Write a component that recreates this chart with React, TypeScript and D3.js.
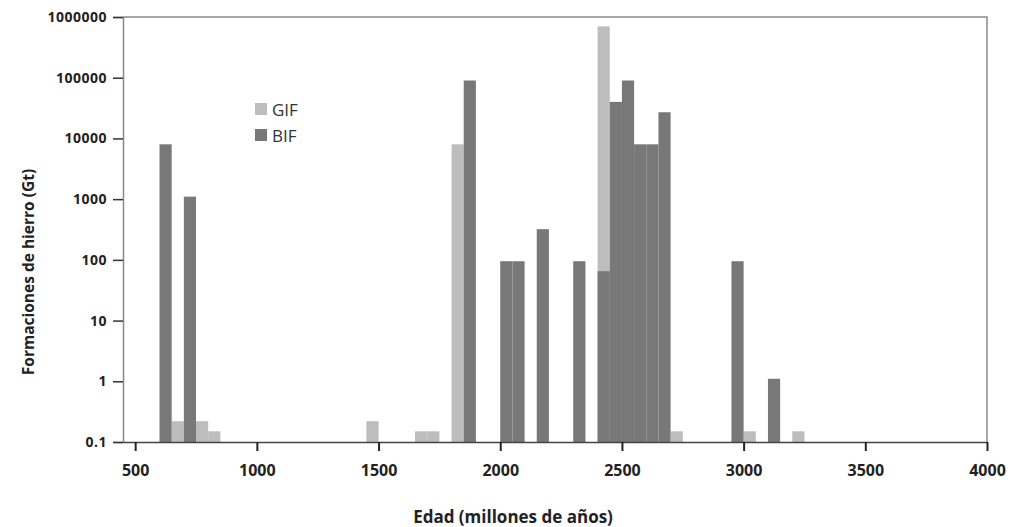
import React from "react";
import * as d3 from "d3";

// bin start (millones de años), each bin is 50 My wide
const binWidth = 50;
const gifBins = [650, 750, 800, 1450, 1650, 1700, 1800, 2400, 2700, 3000, 3200];
const gifValues = [0.22, 0.22, 0.15, 0.22, 0.15, 0.15, 8000, 700000, 0.15, 0.15, 0.15];
const bifBins = [600, 700, 1850, 2000, 2050, 2150, 2300, 2400, 2450, 2500, 2550, 2600, 2650, 2950, 3100];
const bifValues = [8000, 1100, 90000, 95, 95, 320, 95, 65, 40000, 90000, 8000, 8000, 27000, 95, 1.1];

const xTicks = [500, 1000, 1500, 2000, 2500, 3000, 3500, 4000];
const yTicks = [0.1, 1, 10, 100, 1000, 10000, 100000, 1000000];
const seriesNames = ["GIF", "BIF"];
const colors = ["#bdbdbd", "#787878"];

const W = 1010;
const H = 527;
const margin = { top: 17, right: 23, bottom: 85, left: 123 };

export default function App() {
  const svgRef = React.useRef(null);

  React.useEffect(() => {
    const innerW = W - margin.left - margin.right;
    const innerH = H - margin.top - margin.bottom;

    const x = d3.scaleLinear().domain([450, 4000]).range([0, innerW]);
    const y = d3.scaleLog().domain([0.1, 1000000]).range([innerH, 0]);

    const svgEl = d3.select(svgRef.current);
    svgEl.selectAll("*").remove();
    const svg = svgEl.append("g").attr("transform", `translate(${margin.left},${margin.top})`);

    const font = "'Open Sans', sans-serif";

    // bars: GIF first, BIF drawn over it
    const gifData = gifBins.map((b, i) => ({ b, v: gifValues[i] }));
    const bifData = bifBins.map((b, i) => ({ b, v: bifValues[i] }));
    [gifData, bifData].forEach((data, k) => {
      svg.append("g")
        .selectAll("rect")
        .data(data)
        .enter()
        .append("rect")
        .attr("x", d => x(d.b))
        .attr("width", d => x(d.b + binWidth) - x(d.b))
        .attr("y", d => y(d.v))
        .attr("height", d => innerH - y(d.v))
        .attr("fill", colors[k]);
    });

    // frame (top and right)
    svg.append("path")
      .attr("d", `M0,0H${innerW}V${innerH}`)
      .attr("fill", "none")
      .attr("stroke", "#8a8a8a")
      .attr("stroke-width", 1.5);

    // y axis
    const yAxis = d3.axisLeft(y)
      .tickValues(yTicks)
      .tickSize(10)
      .tickPadding(6)
      .tickFormat(d => String(d));
    const yAxisGroup = svg.append("g").call(yAxis);
    yAxisGroup.select(".domain").attr("stroke", "#8a8a8a").attr("stroke-width", 1.5);
    yAxisGroup.selectAll("line").attr("stroke", "#333").attr("stroke-width", 1.5);
    yAxisGroup.selectAll("text")
      .attr("font-family", font)
      .attr("font-weight", "bold")
      .attr("font-size", 14)
      .attr("letter-spacing", 0.5)
      .attr("fill", "#222");

    // x axis
    const xAxis = d3.axisBottom(x)
      .tickValues(xTicks)
      .tickSize(9)
      .tickSizeOuter(0)
      .tickPadding(14)
      .tickFormat(d => String(d));
    const xAxisGroup = svg.append("g")
      .attr("transform", `translate(0,${innerH})`)
      .call(xAxis);
    xAxisGroup.select(".domain").attr("stroke", "#444").attr("stroke-width", 1.5);
    xAxisGroup.selectAll("line").attr("stroke", "#222").attr("stroke-width", 2);
    xAxisGroup.selectAll("text")
      .attr("font-family", font)
      .attr("font-weight", "bold")
      .attr("font-size", 16)
      .attr("fill", "#222");

    // axis titles
    svgEl.append("text")
      .attr("x", 513)
      .attr("y", 523)
      .attr("text-anchor", "middle")
      .attr("font-family", font)
      .attr("font-weight", "bold")
      .attr("font-size", 17)
      .attr("fill", "#222")
      .text("Edad (millones de años)");

    svgEl.append("text")
      .attr("transform", "translate(34,272) rotate(-90)")
      .attr("text-anchor", "middle")
      .attr("font-family", font)
      .attr("font-weight", "bold")
      .attr("font-size", 15.5)
      .attr("fill", "#222")
      .text("Formaciones de hierro (Gt)");

    // legend
    const legend = svgEl.append("g").attr("transform", "translate(255,103)");
    seriesNames.forEach((name, i) => {
      const row = legend.append("g").attr("transform", `translate(0,${i * 26})`);
      row.append("rect").attr("width", 12).attr("height", 12).attr("fill", colors[i]);
      row.append("text")
        .attr("x", 17)
        .attr("y", 13)
        .attr("font-family", font)
        .attr("font-size", 17)
        .attr("fill", "#333")
        .text(name);
    });
  }, []);

  return (
    <svg
      ref={svgRef}
      width={W}
      height={H}
      style={{ position: "absolute", left: 0, top: 0, background: "#fff" }}
    />
  );
}
